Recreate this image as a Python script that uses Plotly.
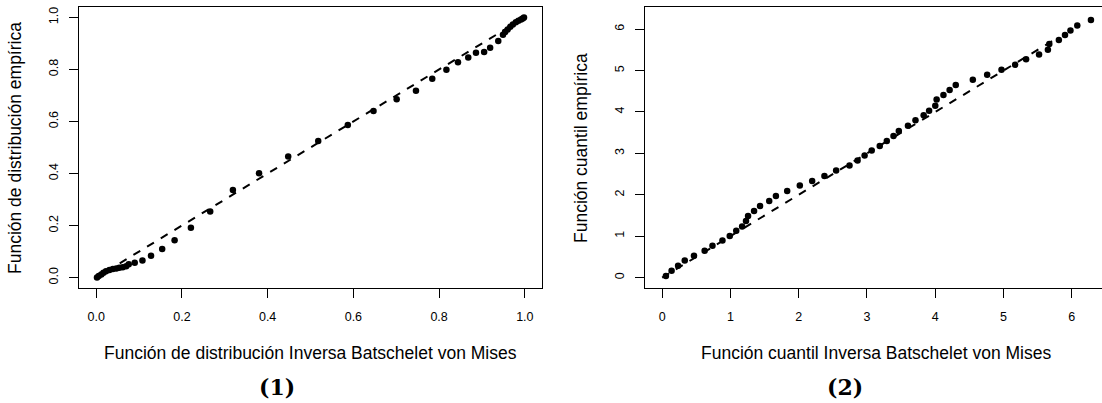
import plotly.graph_objects as go

W, H = 1102, 403

# ---- data: panel (1) P-P plot ----
pp_teorica = [0.002, 0.006, 0.012, 0.017, 0.023, 0.031, 0.039, 0.047, 0.054, 0.062,
              0.070, 0.076, 0.090, 0.108, 0.128, 0.154, 0.183, 0.221, 0.266, 0.319,
              0.380, 0.448, 0.518, 0.587, 0.647, 0.701, 0.746, 0.784, 0.817, 0.844,
              0.868, 0.886, 0.905, 0.919, 0.938, 0.949, 0.954, 0.960, 0.966, 0.972,
              0.979, 0.985, 0.991, 0.995, 0.998]
pp_empirica = [0.000, 0.006, 0.012, 0.019, 0.024, 0.029, 0.033, 0.035, 0.038, 0.040,
               0.044, 0.051, 0.057, 0.066, 0.084, 0.110, 0.144, 0.192, 0.254, 0.337,
               0.401, 0.465, 0.525, 0.586, 0.640, 0.685, 0.718, 0.764, 0.799, 0.828,
               0.846, 0.864, 0.867, 0.883, 0.909, 0.933, 0.944, 0.954, 0.964, 0.973,
               0.981, 0.987, 0.992, 0.996, 1.000]
pp_ref_line = [0.055, 0.955]

# ---- data: panel (2) Q-Q plot ----
qq_teorica = [0.055, 0.138, 0.233, 0.331, 0.466, 0.622, 0.737, 0.883, 0.990, 1.085,
              1.171, 1.228, 1.258, 1.346, 1.434, 1.568, 1.666, 1.831, 2.016, 2.197,
              2.377, 2.548, 2.744, 2.862, 2.965, 3.069, 3.187, 3.290, 3.388, 3.466,
              3.600, 3.710, 3.830, 3.910, 4.000, 4.020, 4.120, 4.210, 4.300, 4.550,
              4.760, 4.970, 5.170, 5.330, 5.520, 5.650, 5.670, 5.810, 5.900, 5.980,
              6.080, 6.280]
qq_empirica = [0.040, 0.165, 0.287, 0.411, 0.528, 0.648, 0.770, 0.894, 1.006, 1.131,
               1.236, 1.369, 1.490, 1.610, 1.731, 1.852, 1.973, 2.093, 2.222, 2.335,
               2.456, 2.585, 2.705, 2.826, 2.947, 3.068, 3.180, 3.301, 3.422, 3.543,
               3.668, 3.800, 3.920, 4.030, 4.150, 4.300, 4.410, 4.530, 4.650, 4.780,
               4.900, 5.020, 5.140, 5.270, 5.390, 5.500, 5.640, 5.740, 5.860, 5.970,
               6.090, 6.220]
qq_ref_line = [0.0, 5.75]

pp_ticks = [0.0, 0.2, 0.4, 0.6, 0.8, 1.0]
pp_ticktext = ["0.0", "0.2", "0.4", "0.6", "0.8", "1.0"]
qq_ticks = [0, 1, 2, 3, 4, 5, 6]

x_title_1 = "Función de distribución Inversa Batschelet von Mises"
y_title_1 = "Función de distribución empírica"
x_title_2 = "Función cuantil Inversa Batschelet von Mises"
y_title_2 = "Función cuantil empírica"
caption_1 = "(1)"
caption_2 = "(2)"

SANS = "Liberation Sans, Arial, Helvetica, sans-serif"
SERIF = "DejaVu Serif, serif"

def px_x(p):
    return p / W

def px_y(p):
    return 1 - p / H

fig = go.Figure()

marker = dict(color="black", size=6.5, line=dict(width=0))
dash_line = dict(color="black", width=2, dash="8px,8px")

fig.add_trace(go.Scatter(x=pp_ref_line, y=pp_ref_line, mode="lines", line=dash_line,
                         xaxis="x", yaxis="y", showlegend=False, hoverinfo="skip"))
fig.add_trace(go.Scatter(x=pp_teorica, y=pp_empirica, mode="markers", marker=marker,
                         xaxis="x", yaxis="y", showlegend=False))
fig.add_trace(go.Scatter(x=qq_ref_line, y=qq_ref_line, mode="lines", line=dash_line,
                         xaxis="x2", yaxis="y2", showlegend=False, hoverinfo="skip"))
fig.add_trace(go.Scatter(x=qq_teorica, y=qq_empirica, mode="markers", marker=marker,
                         xaxis="x2", yaxis="y2", showlegend=False))

tickfont = dict(family=SANS, size=12.5, color="black")
common = dict(showgrid=False, zeroline=False, showline=True, linecolor="black",
              linewidth=1, ticks="outside", ticklen=9, tickwidth=1, tickcolor="black",
              tickfont=tickfont)

y_dom = [px_y(288), px_y(7)]

fig.update_layout(
    width=W, height=H,
    margin=dict(l=0, r=0, t=0, b=0),
    paper_bgcolor="white", plot_bgcolor="white",
    xaxis=dict(domain=[px_x(79), px_x(542)], range=[-0.04, 1.04], anchor="y",
               tickvals=pp_ticks, ticktext=pp_ticktext, mirror=True,
               ticklabelstandoff=8, **common),
    yaxis=dict(domain=y_dom, range=[-0.04, 1.04], anchor="x",
               tickvals=pp_ticks, ticktext=pp_ticktext, mirror=True,
               tickangle=-90, ticklabelstandoff=6, **common),
    xaxis2=dict(domain=[px_x(645), 1.0], range=[-0.2513, 6.442], anchor="y2",
                tickvals=qq_ticks, mirror=True, ticklabelstandoff=8, **common),
    yaxis2=dict(domain=y_dom, range=[-0.2513, 6.5345], anchor="x2",
                tickvals=qq_ticks, mirror=False,
                tickangle=-90, ticklabelstandoff=6, **common),
)

title_font = dict(family=SANS, size=17.5, color="black")
cap_font = dict(family=SERIF, size=22, color="black")

def ann(text, x, y, font, angle=0):
    fig.add_annotation(text=text, x=px_x(x), y=px_y(y), xref="paper", yref="paper",
                       xanchor="center", yanchor="middle", showarrow=False,
                       font=font, textangle=angle)

ann(x_title_1, 310, 353, title_font)
ann(x_title_2, 876, 353, title_font)
ann(y_title_1, 15, 148, title_font, -90)
ann(y_title_2, 581, 148, title_font, -90)
ann("<b>" + caption_1 + "</b>", 277, 387, cap_font)
ann("<b>" + caption_2 + "</b>", 845, 387, cap_font)

fig.write_html("out.html")
